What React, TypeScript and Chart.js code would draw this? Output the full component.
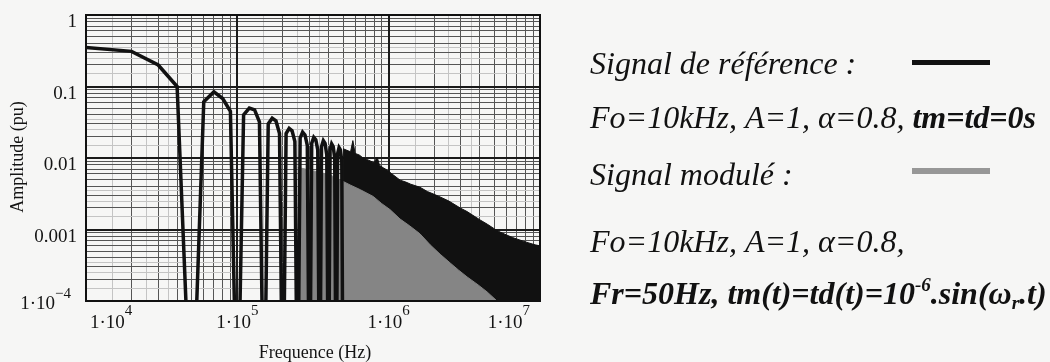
import React, { useEffect, useRef } from 'react';
import { Chart, registerables } from 'chart.js';

Chart.register(...registerables);

// ---- Data ----
// Reference signal: harmonic lines (kHz) and amplitudes (pu); 1e-6 = spectral zero
const refHarmonicKHz = [
  10, 20, 30, 40, 50, 60, 70, 80, 90, 100,
  110, 120, 130, 140, 150, 160, 170, 180, 190, 200,
  210, 220, 230, 240, 250, 260, 270, 280, 290, 300,
  310, 320, 330, 340, 350, 360, 370, 380, 390, 400,
  410, 420, 430, 440, 450, 460, 470, 480, 490, 500,
];
const refAmplitude = [
  0.35, 0.31, 0.2, 0.1, 1e-6, 0.061, 0.084, 0.068, 0.045, 1e-6,
  0.04, 0.05, 0.047, 0.032, 1e-6, 0.03, 0.036, 0.033, 0.022, 1e-6,
  0.022, 0.026, 0.024, 0.017, 1e-6, 0.019, 0.023, 0.021, 0.015, 1e-6,
  0.016, 0.0195, 0.018, 0.013, 1e-6, 0.0145, 0.0175, 0.016, 0.011, 1e-6,
  0.013, 0.0158, 0.0145, 0.01, 1e-6, 0.0115, 0.014, 0.013, 0.009, 1e-6,
];
// Reference signal: dense high-frequency part (upper envelope of the filled band)
const refEnvelopeKHz = [
  500, 530, 560, 580, 600, 640, 670, 730, 800, 840, 870, 920, 975, 1050, 1190,
  1300, 1400, 1610, 1800, 2000, 2190, 2500, 2970, 3300, 3600, 4020, 4500, 5000,
  5450, 6000, 6600, 7400, 8200, 9300, 10000,
];
const refEnvelopeAmp = [
  0.0135, 0.0128, 0.0122, 0.0175, 0.0116, 0.011, 0.0102, 0.0094, 0.0086, 0.0103, 0.0079, 0.0073, 0.0068, 0.006, 0.0049,
  0.0046, 0.0043, 0.0039, 0.0034, 0.0031, 0.00285, 0.0025, 0.002, 0.00178, 0.00158, 0.00136, 0.00118, 0.00102,
  0.00092, 0.00084, 0.00077, 0.00071, 0.00066, 0.00061, 0.00059,
];
// Modulated signal: upper envelope of the grey band
const modEnvelopeKHz = [
  250, 320, 410, 556, 650, 790, 900, 1020, 1190, 1380, 1610, 1880, 2190, 2550,
  2900, 3300, 3900, 4470, 5200, 5600,
];
const modEnvelopeAmp = [
  0.0074, 0.0066, 0.0058, 0.0042, 0.0036, 0.0029, 0.0023, 0.0019, 0.0014, 0.00112, 0.00087, 0.00061, 0.00045, 0.00034,
  0.00027, 0.000217, 0.000168, 0.000134, 0.0001, 0.00006,
];

// Axis labels
const xTickValues = [1e4, 1e5, 1e6, 1e7];
const xTickExponents = ['4', '5', '6', '7'];
const yTickValues = [1, 0.1, 0.01, 0.001];
const yTickLabels = ['1', '0.1', '0.01', '0.001'];
const yLastTick = 1e-4;
const yLastExponent = '\u22124';

const xTitle = 'Frequence (Hz)';
const yTitle = 'Amplitude (pu)';

const gridMultipliers = [1, 1.5, 2, 2.5, 3, 3.5, 4, 5, 6, 7, 8, 9];

function gridValues(e0: number, e1: number) {
  const out: number[] = [];
  for (let e = e0; e < e1; e++) {
    for (const m of gridMultipliers) out.push(parseFloat((m * Math.pow(10, e)).toPrecision(6)));
  }
  out.push(Math.pow(10, e1));
  return out;
}

function kind(v: number) {
  const l = Math.log10(v);
  if (Math.abs(l - Math.round(l)) < 1e-6) return 0;
  const mant = v / Math.pow(10, Math.floor(l + 1e-9));
  if (Math.abs(mant - Math.round(mant)) < 1e-6) return 1;
  return 2;
}

const gridColor = (ctx: any) => {
  const k = kind(ctx.tick.value);
  return k === 0 ? '#1a1a1a' : k === 1 ? '#555555' : '#c4c4c4';
};
const gridWidth = (ctx: any) => {
  const k = kind(ctx.tick.value);
  return k === 0 ? 2 : 1;
};

const SERIF = '"Liberation Serif", "Times New Roman", serif';

type Run = { t: string; f: string; dy?: number };
function drawRuns(ctx: CanvasRenderingContext2D, x: number, y: number, runs: Run[]) {
  let cx = x;
  for (const r of runs) {
    ctx.font = r.f;
    ctx.fillText(r.t, cx, y + (r.dy || 0));
    cx += ctx.measureText(r.t).width;
  }
  return cx;
}
function runsWidth(ctx: CanvasRenderingContext2D, runs: Run[]) {
  let w = 0;
  for (const r of runs) {
    ctx.font = r.f;
    w += ctx.measureText(r.t).width;
  }
  return w;
}

const textPlugin = {
  id: 'figureText',
  beforeDatasetsDraw(chart: any) {
    // decade grid lines on top of the minor ones
    const { ctx, chartArea, scales } = chart;
    ctx.save();
    ctx.strokeStyle = '#1a1a1a';
    ctx.lineWidth = 2;
    ctx.beginPath();
    for (const v of [1e5, 1e6]) {
      const px = Math.round(scales.x.getPixelForValue(v));
      ctx.moveTo(px, chartArea.top);
      ctx.lineTo(px, chartArea.bottom);
    }
    for (const v of [0.1, 0.01, 0.001]) {
      const py = Math.round(scales.y.getPixelForValue(v));
      ctx.moveTo(chartArea.left, py);
      ctx.lineTo(chartArea.right, py);
    }
    ctx.stroke();
    ctx.restore();
  },
  afterDatasetsDraw(chart: any) {
    const { ctx, chartArea } = chart;
    ctx.save();
    ctx.strokeStyle = '#111';
    ctx.lineWidth = 2;
    ctx.strokeRect(chartArea.left, chartArea.top, chartArea.right - chartArea.left, chartArea.bottom - chartArea.top);
    ctx.restore();
  },
  afterDraw(chart: any) {
    const { ctx, scales } = chart;
    const xs = scales.x;
    const ys = scales.y;
    ctx.save();
    ctx.fillStyle = '#141414';
    ctx.textBaseline = 'alphabetic';
    ctx.textAlign = 'left';
    const tickFont = `19px ${SERIF}`;
    const supFont = `15px ${SERIF}`;

    // x tick labels
    xTickValues.forEach((v, i) => {
      const px = xs.getPixelForValue(v);
      const runs: Run[] = [
        { t: '1\u00B710', f: tickFont },
        { t: xTickExponents[i], f: supFont, dy: -13 },
      ];
      const w = runsWidth(ctx, runs);
      let left = px - w / 2;
      if (i === 0) left = px + 4;
      if (i === xTickValues.length - 1) left = px - 10 - w;
      drawRuns(ctx, left, 328, runs);
    });

    // y tick labels
    const yRight = 77;
    yTickValues.forEach((v, i) => {
      const py = ys.getPixelForValue(v);
      ctx.font = tickFont;
      const w = ctx.measureText(yTickLabels[i]).width;
      ctx.fillText(yTickLabels[i], yRight - w, py + 12);
    });
    {
      const runs: Run[] = [
        { t: '1\u00B710', f: tickFont },
        { t: yLastExponent, f: supFont, dy: -11 },
      ];
      const w = runsWidth(ctx, runs);
      const py = ys.getPixelForValue(yLastTick);
      drawRuns(ctx, 71 - w, py + 8, runs);
    }

    // axis titles
    ctx.font = `18px ${SERIF}`;
    ctx.textAlign = 'center';
    ctx.fillText(xTitle, 315, 358);
    ctx.save();
    ctx.translate(23, 157);
    ctx.rotate(-Math.PI / 2);
    ctx.fillText(yTitle, 0, 0);
    ctx.restore();

    // legend text
    ctx.textAlign = 'left';
    ctx.fillStyle = '#111';
    const I = `italic 32px ${SERIF}`;
    const BI = `italic bold 32px ${SERIF}`;
    const BIs = `italic bold 19px ${SERIF}`;
    const lx = 590;
    drawRuns(ctx, lx, 74, [{ t: 'Signal de r\u00E9f\u00E9rence :', f: I }]);
    drawRuns(ctx, lx, 128, [
      { t: 'Fo=10kHz, A=1, ', f: I },
      { t: '\u03B1', f: I },
      { t: '=0.8, ', f: I },
      { t: 'tm=td=0s', f: BI },
    ]);
    drawRuns(ctx, lx, 185, [{ t: 'Signal modul\u00E9 :', f: I }]);
    drawRuns(ctx, lx, 252, [
      { t: 'Fo=10kHz, A=1, ', f: I },
      { t: '\u03B1', f: I },
      { t: '=0.8,', f: I },
    ]);
    drawRuns(ctx, lx, 304, [
      { t: 'Fr=50Hz, tm(t)=td(t)=10', f: BI },
      { t: '-6', f: BIs, dy: -13 },
      { t: '.sin(', f: BI },
      { t: '\u03C9', f: BI },
      { t: 'r', f: BIs, dy: 5 },
      { t: '.t)', f: BI },
    ]);
    // legend line samples
    ctx.fillStyle = '#111';
    ctx.fillRect(912, 60, 78, 5);
    ctx.fillStyle = '#979797';
    ctx.fillRect(912, 168, 78, 6);
    ctx.restore();
  },
};

export default function App() {
  const canvasRef = useRef<HTMLCanvasElement | null>(null);

  useEffect(() => {
    if (!canvasRef.current) return;
    const refLine = refHarmonicKHz.map((k, i) => ({ x: k * 1000, y: refAmplitude[i] }));
    const refBand = refEnvelopeKHz.map((k, i) => ({ x: k * 1000, y: refEnvelopeAmp[i] }));
    const modBand = modEnvelopeKHz.map((k, i) => ({ x: k * 1000, y: modEnvelopeAmp[i] }));
    const xGrid = gridValues(4, 7);
    const yGrid = gridValues(-4, 0);

    const chart = new Chart(canvasRef.current, {
      type: 'line',
      data: {
        datasets: [
          {
            label: 'Signal de référence',
            data: refLine,
            borderColor: '#111',
            borderWidth: 3.5,
            pointRadius: 0,
            fill: false,
            tension: 0,
            order: 0,
          },
          {
            label: 'Signal modulé',
            data: modBand,
            borderColor: '#858585',
            backgroundColor: '#858585',
            borderWidth: 1,
            pointRadius: 0,
            fill: 'start',
            tension: 0,
            order: 1,
          },
          {
            label: 'Signal de référence (bande)',
            data: refBand,
            borderColor: '#111',
            backgroundColor: '#111',
            borderWidth: 1,
            pointRadius: 0,
            fill: 'start',
            tension: 0,
            order: 2,
          },
        ],
      },
      options: {
        responsive: false,
        animation: false,
        events: [],
        layout: { padding: { left: 86, top: 15, right: 510, bottom: 61 } },
        plugins: { legend: { display: false }, tooltip: { enabled: false } },
        scales: {
          x: {
            type: 'logarithmic',
            min: 1e4,
            max: 1e7,
            afterBuildTicks: (scale: any) => {
              scale.ticks = xGrid.map((v) => ({ value: v }));
            },
            ticks: { display: false },
            grid: { color: gridColor, lineWidth: gridWidth, drawTicks: false },
            border: { display: false },
          },
          y: {
            type: 'logarithmic',
            min: 1e-4,
            max: 1,
            afterBuildTicks: (scale: any) => {
              scale.ticks = yGrid.map((v) => ({ value: v }));
            },
            ticks: { display: false },
            grid: { color: gridColor, lineWidth: gridWidth, drawTicks: false },
            border: { display: false },
          },
        },
      } as any,
      plugins: [textPlugin],
    });
    return () => chart.destroy();
  }, []);

  return (
    <div
      style={{
        position: 'fixed',
        left: 0,
        top: 0,
        width: 1050,
        height: 362,
        background: '#f6f6f5',
      }}
    >
      <canvas ref={canvasRef} width={1050} height={362} style={{ display: 'block' }} />
    </div>
  );
}
